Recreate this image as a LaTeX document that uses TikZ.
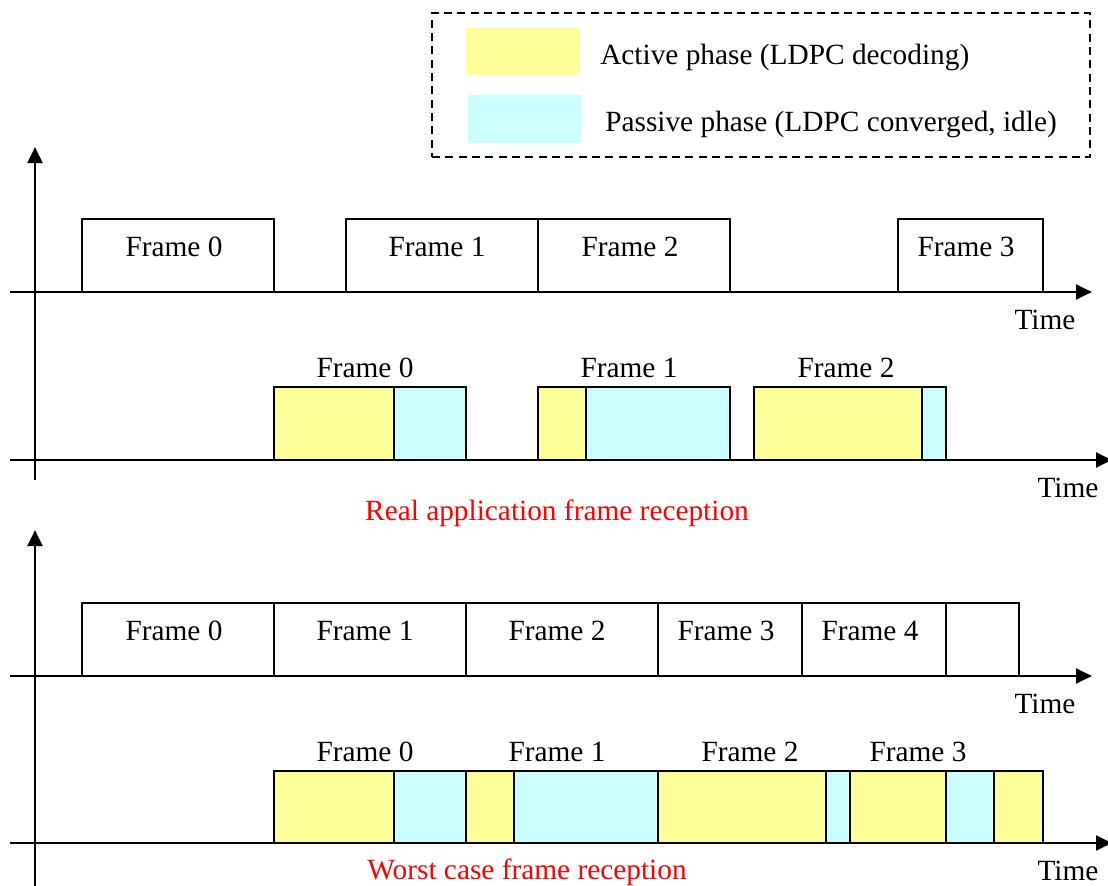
\documentclass[tikz,border=0pt]{standalone}
\usepackage{fontspec}
\setmainfont{Liberation Serif}
\usetikzlibrary{fit,arrows.meta}
\definecolor{actcol}{HTML}{FFFF99}
\definecolor{pascol}{HTML}{CCFFFF}
\begin{document}
\begin{tikzpicture}[x=0.75pt,y=-0.75pt,
  every node/.style={font=\fontsize{22}{26}\selectfont},
  frame/.style={draw,line width=1.1pt,inner sep=0pt},
  fr/.style={frame,text depth=0pt,xshift=0pt},
  act/.style={frame,fill=actcol},
  pas/.style={frame,fill=pascol},
  axis/.style={line width=2.2pt,-{Triangle[length=12pt,width=11pt]}},
  lbl/.style={inner sep=0pt},
  red/.style={lbl,text=red}]
\useasboundingbox (0,0) rectangle (1108,886);
% legend
\node[draw,dash pattern=on 6pt off 4pt,line width=1.1pt,fit={(432,13)(1090,157)},inner sep=0pt] (leg) {};
\node[fill=actcol,inner sep=0pt,fit={(466,28)(580,75)}] (legA) {};
\node[fill=pascol,inner sep=0pt,fit={(468,95)(581,143)}] (legP) {};
\node[lbl,anchor=west] (legAt) at (600,57) {Active phase (LDPC decoding)};
\node[lbl,anchor=west] (legPt) at (605,124) {Passive phase (LDPC converged, idle)};
% ---------- part 1 ----------
\coordinate (v1b) at (35,480); \coordinate (v1t) at (35,147);
\coordinate (h1a) at (10,292); \coordinate (h1b) at (1092,292);
\coordinate (h2a) at (10,460); \coordinate (h2b) at (1112,460);
% top row frames
\node[frame,fit={(82,219)(274,292)}] (r1f0) {};
\node[frame,fit={(346,219)(538,292)}] (r1f1) {};
\node[frame,fit={(538,219)(730,292)}] (r1f2) {};
\node[frame,fit={(898,219)(1043,292)}] (r1f3) {};
\node[lbl] (r1t0) at (174,247) {Frame 0};
\node[lbl] (r1t1) at (437,247) {Frame 1};
\node[lbl] (r1t2) at (630,247) {Frame 2};
\node[lbl] (r1t3) at (966,247) {Frame 3};
% decoding row
\node[act,fit={(274,387)(394,460)}] (d1a0) {};
\node[pas,fit={(394,387)(466,460)}] (d1p0) {};
\node[act,fit={(538,387)(586,460)}] (d1a1) {};
\node[pas,fit={(586,387)(730,460)}] (d1p1) {};
\node[act,fit={(754,387)(922,460)}] (d1a2) {};
\node[pas,fit={(922,387)(946,460)}] (d1p2) {};
\node[lbl] (l1f0) at (365,368) {Frame 0};
\node[lbl] (l1f1) at (629,368) {Frame 1};
\node[lbl] (l1f2) at (846,368) {Frame 2};
\draw[axis] (h1a) -- (h1b);
\draw[axis] (h2a) -- (h2b);
\draw[axis] (v1b) -- (v1t);
\node[lbl] (t1) at (1045,320) {Time};
\node[lbl] (t2) at (1068,488) {Time};
\node[red] (cap1) at (557,513) {Real application frame reception};
% ---------- part 2 ----------
\coordinate (v2b) at (35,890); \coordinate (v2t) at (35,530);
\coordinate (h3a) at (10,676); \coordinate (h3b) at (1092,676);
\coordinate (h4a) at (10,843); \coordinate (h4b) at (1112,843);
\node[frame,fit={(82,603)(274,676)}] (r2f0) {};
\node[frame,fit={(274,603)(466,676)}] (r2f1) {};
\node[frame,fit={(466,603)(658,676)}] (r2f2) {};
\node[frame,fit={(658,603)(802,676)}] (r2f3) {};
\node[frame,fit={(802,603)(946,676)}] (r2f4) {};
\node[frame,fit={(946,603)(1019,676)}] (r2f5) {};
\node[lbl] (r2t0) at (174,631) {Frame 0};
\node[lbl] (r2t1) at (365,631) {Frame 1};
\node[lbl] (r2t2) at (557,631) {Frame 2};
\node[lbl] (r2t3) at (726,631) {Frame 3};
\node[lbl] (r2t4) at (870,631) {Frame 4};
\node[act,fit={(274,771)(394,843)}] (d2a0) {};
\node[pas,fit={(394,771)(466,843)}] (d2p0) {};
\node[act,fit={(466,771)(514,843)}] (d2a1) {};
\node[pas,fit={(514,771)(658,843)}] (d2p1) {};
\node[act,fit={(658,771)(826,843)}] (d2a2) {};
\node[pas,fit={(826,771)(850,843)}] (d2p2) {};
\node[act,fit={(850,771)(946,843)}] (d2a3) {};
\node[pas,fit={(946,771)(994,843)}] (d2p3) {};
\node[act,fit={(994,771)(1043,843)}] (d2a4) {};
\node[lbl] (l2f0) at (365,752) {Frame 0};
\node[lbl] (l2f1) at (557,752) {Frame 1};
\node[lbl] (l2f2) at (750,752) {Frame 2};
\node[lbl] (l2f3) at (918,752) {Frame 3};
\draw[axis] (h3a) -- (h3b);
\draw[axis] (h4a) -- (h4b);
\draw[axis] (v2b) -- (v2t);
\node[lbl] (t3) at (1045,704) {Time};
\node[lbl] (t4) at (1068,871) {Time};
\node[red] (cap2) at (527,872) {Worst case frame reception};
\end{tikzpicture}
\end{document}
